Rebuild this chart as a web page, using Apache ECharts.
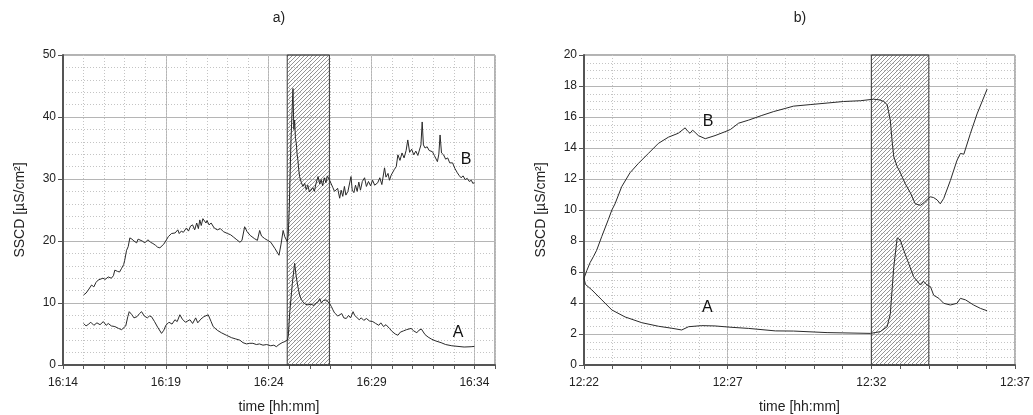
<!DOCTYPE html>
<html>
<head>
<meta charset="utf-8">
<script src="https://cdn.jsdelivr.net/npm/echarts@6/dist/echarts.min.js"></script>
<style>
  html, body { margin: 0; padding: 0; background: #fff; }
  #chart { width: 1033px; height: 415px; }
</style>
</head>
<body>
<div id="chart"></div>
<script>
// ---- data: [minutes after start, SSCD in µS/cm²] ----
const startA = 16 * 60 + 14;   // panel a) starts 16:14
const startB = 12 * 60 + 22;   // panel b) starts 12:22

const panelA_B = [
  [1.0,11.3],[1.12,11.6],[1.23,12.1],[1.3,11.9],[1.39,12.9],[1.5,12.6],[1.6,13.3],[1.71,13.7],[1.8,13.4],[1.94,14.0],
  [2.05,13.8],[2.2,14.2],[2.35,14.0],[2.45,14.4],[2.52,15.3],[2.65,15.1],[2.75,15.0],[2.85,15.6],[2.95,16.2],[3.0,16.9],
  [3.09,18.5],[3.17,19.1],[3.25,20.5],[3.35,20.3],[3.45,20.0],[3.58,19.7],[3.65,20.3],[3.74,20.5],[3.85,20.0],[3.98,19.7],
  [4.05,20.0],[4.13,20.2],[4.25,19.8],[4.37,19.6],[4.5,19.3],[4.6,19.0],[4.71,18.9],[4.8,19.2],[4.9,19.5],[5.03,20.2],
  [5.12,20.7],[5.2,20.5],[5.27,21.2],[5.35,20.9],[5.45,21.3],[5.58,21.8],[5.65,21.2],[5.75,21.6],[5.85,21.4],[6.0,22.1],
  [6.1,21.6],[6.2,22.4],[6.3,22.6],[6.4,21.8],[6.5,22.9],[6.58,22.0],[6.65,23.4],[6.72,22.5],[6.8,23.6],[6.89,23.9],
  [6.95,22.9],[7.0,23.3],[7.1,22.6],[7.2,22.9],[7.35,22.1],[7.5,21.8],[7.65,22.0],[7.8,21.5],[8.0,21.2],[8.15,21.0],
  [8.3,20.6],[8.45,20.2],[8.6,19.8],[8.7,20.1],[8.83,22.3],[8.95,21.5],[9.1,20.9],[9.3,20.4],[9.45,20.1],[9.56,21.7],
  [9.65,20.8],[9.8,20.4],[9.95,20.1],[10.1,19.8],[10.3,18.8],[10.5,17.7],[10.6,19.5],[10.7,21.7],[10.78,20.7],[10.9,19.9],
  [10.95,21.0],[11.0,25.5],[11.08,36.0],[11.13,40.5],[11.18,44.6],[11.22,38.0],[11.26,39.5],[11.3,36.5],[11.34,35.8],[11.38,34.0],
  [11.42,33.0],[11.46,31.5],[11.5,30.4],[11.58,29.5],[11.66,28.8],[11.75,29.3],[11.82,28.3],[11.9,29.0],[11.98,27.9],[12.07,27.7],
  [12.15,28.6],[12.22,28.0],[12.3,29.3],[12.4,30.4],[12.48,29.2],[12.55,29.9],[12.62,28.9],[12.7,30.2],[12.78,29.4],[12.85,30.5],
  [12.96,29.8],[13.05,30.1],[13.12,28.6],[13.2,28.0],[13.28,27.7],[13.35,28.5],[13.45,26.9],[13.52,28.2],[13.6,27.2],[13.68,28.8],
  [13.75,27.4],[13.85,28.0],[13.93,27.7],[14.0,30.4],[14.06,28.2],[14.14,27.8],[14.22,29.0],[14.3,28.0],[14.38,29.5],[14.46,28.2],
  [14.55,29.6],[14.66,30.2],[14.75,28.8],[14.85,29.6],[14.95,28.9],[15.05,29.8],[15.15,29.0],[15.3,29.4],[15.4,30.2],[15.5,29.1],
  [15.63,31.8],[15.7,30.3],[15.8,30.9],[15.87,29.8],[15.95,30.6],[16.1,31.5],[16.2,32.0],[16.28,33.9],[16.38,33.0],[16.48,34.2],
  [16.58,33.4],[16.68,34.6],[16.76,36.3],[16.85,34.3],[16.95,34.8],[17.05,33.9],[17.15,34.5],[17.25,33.8],[17.33,33.6],[17.4,35.5],
  [17.46,39.2],[17.52,35.5],[17.6,35.0],[17.7,35.2],[17.8,34.6],[17.96,34.4],[18.05,33.8],[18.2,32.8],[18.27,34.0],[18.33,37.1],
  [18.4,34.2],[18.5,33.9],[18.6,33.2],[18.7,33.4],[18.8,32.6],[18.94,32.6],[19.05,31.7],[19.17,31.0],[19.25,30.6],[19.35,30.2],
  [19.45,30.5],[19.55,29.9],[19.65,30.1],[19.75,29.6],[19.85,29.8],[19.92,29.3],[20.0,29.4]
];

const panelA_A = [
  [1.0,6.7],[1.12,6.3],[1.25,6.6],[1.35,6.9],[1.5,6.4],[1.65,6.8],[1.8,6.5],[1.96,7.0],[2.1,6.4],[2.2,6.7],
  [2.35,6.3],[2.52,6.2],[2.7,5.9],[2.85,5.7],[2.93,5.6],[3.05,6.3],[3.15,7.8],[3.22,8.6],[3.35,8.1],[3.45,7.6],
  [3.6,7.8],[3.72,8.3],[3.82,8.6],[3.95,7.9],[4.1,7.6],[4.2,7.9],[4.3,7.8],[4.45,7.0],[4.6,6.1],[4.79,5.1],
  [4.9,5.6],[5.0,6.4],[5.15,6.9],[5.3,6.6],[5.44,7.3],[5.55,7.0],[5.68,8.1],[5.8,7.4],[5.95,6.9],[6.17,7.3],
  [6.3,6.7],[6.45,7.6],[6.55,6.8],[6.7,7.4],[6.85,7.8],[7.06,8.1],[7.2,7.0],[7.3,6.2],[7.5,5.6],[7.7,5.2],
  [7.94,4.8],[8.2,4.4],[8.4,4.2],[8.6,4.0],[8.75,3.6],[8.92,3.4],[9.08,3.5],[9.23,3.5],[9.4,3.3],[9.55,3.4],
  [9.72,3.2],[9.9,3.3],[10.1,3.1],[10.25,3.2],[10.37,2.95],[10.5,3.3],[10.65,3.6],[10.8,3.8],[10.9,4.0],
  [10.95,4.6],[11.02,8.4],[11.15,13.2],[11.26,16.4],[11.34,14.2],[11.42,12.6],[11.5,11.3],[11.58,10.6],[11.66,10.2],[11.78,9.8],
  [11.9,9.7],[12.05,9.8],[12.2,9.6],[12.3,10.0],[12.4,10.2],[12.48,10.7],[12.56,10.0],[12.65,10.4],[12.72,10.2],[12.8,10.5],
  [12.96,9.9],[13.05,9.4],[13.12,8.9],[13.2,8.4],[13.28,8.6],[13.36,7.9],[13.45,7.8],[13.55,8.3],[13.65,7.6],[13.77,7.5],
  [13.88,8.0],[13.98,7.6],[14.1,8.6],[14.18,8.0],[14.26,7.8],[14.4,7.3],[14.5,7.6],[14.62,7.2],[14.75,7.5],[14.9,7.1],
  [15.06,7.0],[15.2,6.7],[15.35,6.4],[15.45,6.8],[15.58,6.2],[15.7,6.5],[15.87,5.9],[16.0,5.4],[16.15,5.0],[16.28,4.8],
  [16.4,5.3],[16.55,5.5],[16.7,5.7],[16.92,5.9],[17.05,5.5],[17.2,5.2],[17.3,5.6],[17.42,5.8],[17.49,5.6],[17.6,4.9],
  [17.75,4.5],[17.9,4.2],[18.1,3.9],[18.38,3.6],[18.6,3.3],[18.9,3.1],[19.2,3.0],[19.5,2.9],[19.84,2.95],[20.0,3.0]
];

const panelB_B = [
  [0,5.6],[0.1,6.1],[0.21,6.6],[0.33,7.0],[0.44,7.4],[0.62,8.3],[0.85,9.4],[0.97,10.0],[1.08,10.4],[1.31,11.5],
  [1.6,12.4],[1.89,13.0],[2.24,13.65],[2.59,14.3],[2.94,14.7],[3.28,14.95],[3.52,15.3],[3.6,15.1],[3.69,14.95],[3.78,15.15],
  [3.87,15.0],[3.98,14.8],[4.22,14.6],[4.56,14.8],[4.91,15.05],[5.1,15.2],[5.38,15.6],[5.73,15.8],[6.19,16.1],[6.6,16.35],
  [7.0,16.55],[7.29,16.7],[7.87,16.8],[8.46,16.9],[9.03,17.0],[9.62,17.05],[10.08,17.15],[10.3,17.1],[10.43,17.0],[10.55,16.8],
  [10.66,15.8],[10.72,14.5],[10.78,13.45],[10.9,12.8],[11.01,12.4],[11.18,11.7],[11.36,11.1],[11.53,10.4],[11.71,10.3],[11.85,10.5],
  [11.95,10.7],[12.06,10.85],[12.17,10.8],[12.29,10.65],[12.4,10.4],[12.52,10.75],[12.75,11.9],[12.98,13.2],[13.1,13.65],[13.22,13.6],
  [13.45,14.95],[13.68,16.2],[14.03,17.8]
];

const panelB_A = [
  [0,5.6],[0.05,5.2],[0.27,4.85],[0.62,4.2],[0.97,3.55],[1.43,3.1],[2.01,2.73],[2.59,2.5],[3.06,2.37],[3.4,2.26],
  [3.64,2.47],[4.1,2.54],[4.56,2.52],[5.15,2.43],[5.73,2.36],[6.66,2.2],[7.29,2.19],[8.46,2.09],[9.97,2.04],[10.31,2.15],
  [10.55,2.47],[10.66,3.3],[10.78,6.3],[10.9,8.2],[11.01,8.06],[11.13,7.4],[11.3,6.55],[11.47,5.7],[11.6,5.4],[11.71,5.16],
  [11.82,5.4],[11.94,5.16],[12.06,5.05],[12.17,4.5],[12.35,4.3],[12.52,3.98],[12.75,3.87],[12.98,3.98],[13.1,4.3],[13.28,4.2],
  [13.56,3.87],[13.8,3.65],[14.03,3.5]
];

// shaded (hatched) intervals, minutes after start
const hatchA = [10.9, 12.95];
const hatchB = [10, 12];

// curve labels: [text, minute, value]
const labelsA = [['B', 19.6, 33.1], ['A', 19.2, 5.2]];
const labelsB = [['B', 4.32, 15.7], ['A', 4.29, 3.7]];

const panelTitles = ['a)', 'b)'];
const yName = 'SSCD [µS/cm²]';
const xName = 'time [hh:mm]';

// ---- drawing ----
const FONT = 'Liberation Sans, Arial, sans-serif';
const TXT = '#222';
const LINE = '#2a2a2a';

function hatchPattern() {
  const c = document.createElement('canvas');
  c.width = 4; c.height = 4;
  const g = c.getContext('2d');
  g.strokeStyle = '#7a7a7a';
  g.lineWidth = 0.8;
  g.beginPath();
  g.moveTo(-1, 5); g.lineTo(5, -1);
  g.moveTo(-1, 1); g.lineTo(1, -1);
  g.moveTo(3, 5); g.lineTo(5, 3);
  g.stroke();
  return c;
}
const pattern = { image: hatchPattern(), repeat: 'repeat' };

function hhmm(start, v) {
  const m = Math.round(start + v);
  const h = Math.floor(m / 60), mm = m % 60;
  return h + ':' + (mm < 10 ? '0' : '') + mm;
}

const grids = [
  { left: 63, right: 538, top: 55, bottom: 50, show: true, borderColor: '#666', borderWidth: 1, outerBoundsMode: 'none', containLabel: false },
  { left: 584, right: 18, top: 55, bottom: 50, show: true, borderColor: '#666', borderWidth: 1, outerBoundsMode: 'none', containLabel: false }
];

function xAxes(gi, start, max) {
  return [
    { // main axis: labels and solid grid every 5 min
      type: 'value', gridIndex: gi, min: 0, max: max, interval: 5,
      name: xName, nameLocation: 'middle', nameGap: 35,
      nameTextStyle: { fontFamily: FONT, fontSize: 14, color: TXT },
      axisLine: { show: true, onZero: false, lineStyle: { color: '#555', width: 2 } },
      axisTick: { show: false },
      axisLabel: { fontFamily: FONT, fontSize: 12, color: TXT, margin: 12,
        formatter: v => (Math.abs(v % 5) < 1e-9 ? hhmm(start, v) : '') },
      splitLine: { show: true, lineStyle: { color: '#b5b5b5', width: 1 } }
    },
    { // minute ticks and dotted grid
      type: 'value', gridIndex: gi, min: 0, max: max, interval: 1, position: 'bottom',
      axisLine: { show: false },
      axisTick: { show: true, inside: false, length: 4, lineStyle: { color: '#555' } },
      axisLabel: { show: false },
      splitLine: { show: true, lineStyle: { color: '#c4c4c4', type: [1, 2], width: 1 } }
    }
  ];
}

function yAxis(gi, max, interval, minorSplit, gap) {
  return {
    type: 'value', gridIndex: gi, min: 0, max: max, interval: interval,
    name: yName, nameLocation: 'middle', nameGap: gap, nameRotate: 90,
    nameTextStyle: { fontFamily: FONT, fontSize: 14, color: TXT },
    axisLine: { show: true, lineStyle: { color: '#555', width: 2 } },
    axisTick: { show: true, length: 5, lineStyle: { color: '#555' } },
    axisLabel: { fontFamily: FONT, fontSize: 12, color: TXT, margin: 7 },
    splitLine: { show: true, lineStyle: { color: '#b5b5b5', width: 1 } },
    minorTick: { show: false, splitNumber: minorSplit },
    minorSplitLine: { show: true, lineStyle: { color: '#c4c4c4', type: [1, 2], width: 1 } }
  };
}

function curve(xi, yi, data) {
  return {
    type: 'line', xAxisIndex: xi, yAxisIndex: yi, data: data, z: 5,
    showSymbol: false, symbol: 'none', animation: false,
    lineStyle: { color: LINE, width: 1 }
  };
}

function shade(xi, yi, range) {
  return {
    type: 'line', xAxisIndex: xi, yAxisIndex: yi, data: [], z: 2, animation: false,
    markArea: {
      silent: true,
      itemStyle: { color: pattern, borderColor: '#3a3a3a', borderWidth: 1 },
      data: [[{ xAxis: range[0] }, { xAxis: range[1] }]]
    }
  };
}

function labels(xi, yi, list) {
  return {
    type: 'line', xAxisIndex: xi, yAxisIndex: yi, data: [], z: 6, animation: false,
    markPoint: {
      symbol: 'circle', symbolSize: 0, silent: true,
      label: { show: true, position: 'inside', fontFamily: FONT, fontSize: 16, color: '#111',
        formatter: p => p.name },
      data: list.map(l => ({ name: l[0], coord: [l[1], l[2]] }))
    }
  };
}

const chart = echarts.init(document.getElementById('chart'), null, { renderer: 'canvas' });
chart.setOption({
  animation: false,
  backgroundColor: '#fff',
  grid: grids,
  xAxis: [...xAxes(0, startA, 21), ...xAxes(1, startB, 15)],
  yAxis: [yAxis(0, 50, 10, 5, 36), yAxis(1, 20, 2, 4, 36)],
  graphic: [
    { type: 'text', x: 279, y: 18, style: { text: panelTitles[0], font: '14px ' + FONT, fill: TXT, align: 'center', verticalAlign: 'middle' } },
    { type: 'text', x: 800, y: 18, style: { text: panelTitles[1], font: '14px ' + FONT, fill: TXT, align: 'center', verticalAlign: 'middle' } }
  ],
  series: [
    shade(0, 0, hatchA),
    curve(0, 0, panelA_B),
    curve(0, 0, panelA_A),
    labels(0, 0, labelsA),
    shade(2, 1, hatchB),
    curve(2, 1, panelB_B),
    curve(2, 1, panelB_A),
    labels(2, 1, labelsB)
  ]
});
</script>
</body>
</html>
